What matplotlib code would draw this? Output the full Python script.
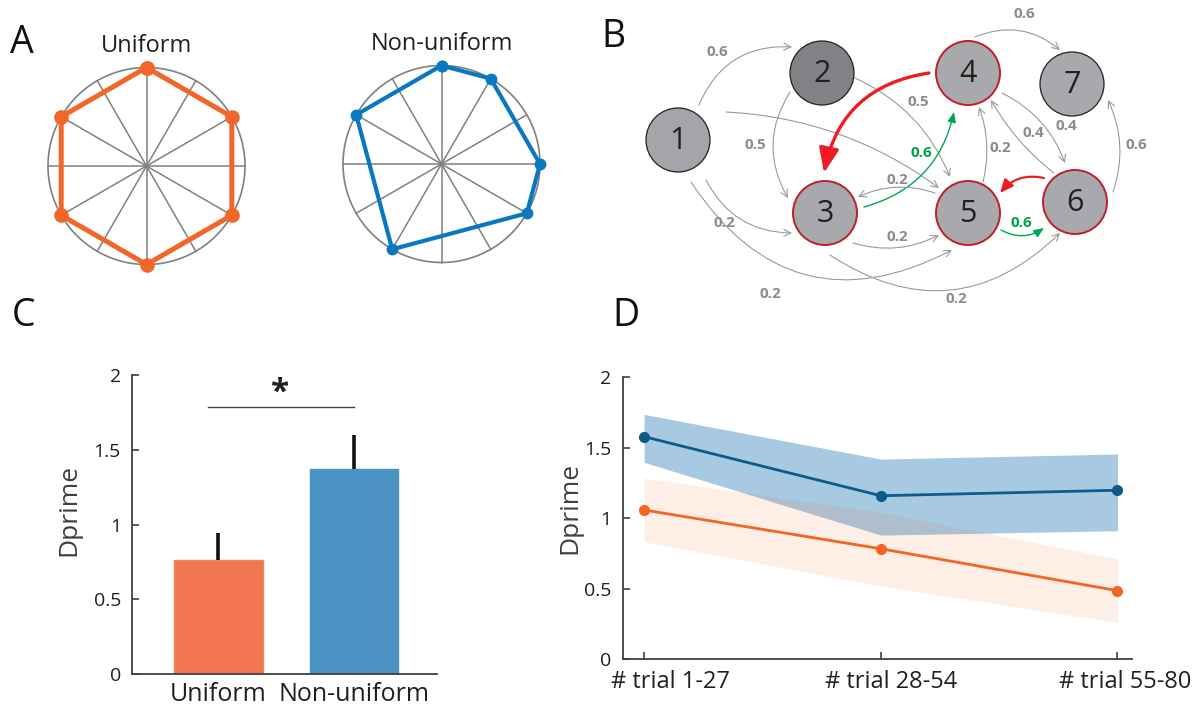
import numpy as np
import matplotlib
matplotlib.use("Agg")
import matplotlib.pyplot as plt
import matplotlib.transforms as mtrans
from matplotlib.patches import Circle, FancyArrowPatch

plt.rcParams['font.family'] = ['Open Sans', 'DejaVu Sans']

W, H = 1196, 708

# ---- panel A data: polygon vertex angles (deg) on unit circle
uniform_angles = [90, 30, -30, -90, -150, 150]
nonuniform_angles = [90, 60, 0, -30, -120, 150]

# ---- panel B data: nodes and transition edges
node_ids = ['1', '2', '3', '4', '5', '6', '7']
node_xy = {'1': (678, 140), '2': (822, 73), '3': (825, 213), '4': (968, 73),
           '5': (968, 213), '6': (1075, 202), '7': (1072, 84)}
node_fill = {'1': '#a3a5a8', '2': '#808285', '3': '#a7a9ac', '4': '#a7a9ac',
             '5': '#a7a9ac', '6': '#a7a9ac', '7': '#a7a9ac'}
node_edge = {'1': '#231f20', '2': '#231f20', '3': '#be1e2d', '4': '#be1e2d',
             '5': '#be1e2d', '6': '#be1e2d', '7': '#231f20'}
# (start xy, end xy, rad, kind, label, label xy)
edges = [
    ((699, 105), (792, 47), -0.35, 'gray', '0.6', (717, 52)),
    ((726, 112), (939, 188), -0.15, 'gray', '', None),
    ((706, 180), (792, 233), 0.3, 'gray', '0.2', (724, 223)),
    ((691, 182), (952, 250), 0.45, 'gray', '0.2', (770, 294)),
    ((790, 92), (788, 198), 0.3, 'gray', '0.5', (755, 145)),
    ((855, 78), (950, 177), -0.2, 'gray', '0.5', (918, 102)),
    ((929, 73), (824, 173), 0.35, 'red', '', None),
    ((864, 207), (954, 112), 0.3, 'green', '0.6', (921, 153)),
    ((935, 193), (858, 197), 0.2, 'gray', '0.2', (897, 180)),
    ((853, 243), (939, 235), 0.2, 'gray', '0.2', (897, 237)),
    ((830, 255), (1060, 233), 0.4, 'gray', '0.2', (956, 299)),
    ((983, 182), (979, 107), 0.15, 'gray', '0.2', (1000, 148)),
    ((1054, 173), (991, 100), -0.1, 'gray', '0.4', (1033, 133)),
    ((1002, 93), (1065, 163), -0.2, 'gray', '0.4', (1066, 126)),
    ((1044, 178), (1000, 193), 0.3, 'red2', '', None),
    ((1001, 230), (1044, 228), 0.3, 'green', '0.6', (1021, 223)),
    ((1113, 192), (1108, 100), 0.2, 'gray', '0.6', (1136, 145)),
    ((975, 37), (1060, 50), -0.3, 'gray', '0.6', (1024, 14)),
]

# ---- panel C data
groups = ['Uniform', 'Non-uniform']
dprime_mean = [0.763, 1.373]
dprime_err = [0.18, 0.228]
bar_colors = ['#f1764f', '#4a92c4']

# ---- panel D data
trial_labels = ['# trial 1-27', '# trial 28-54', '# trial 55-80']
nonuni_mean = [1.579, 1.160, 1.199]
nonuni_hi = [1.737, 1.420, 1.456]
nonuni_lo = [1.397, 0.881, 0.912]
uni_mean = [1.059, 0.784, 0.487]
uni_hi = [1.284, 1.043, 0.712]
uni_lo = [0.834, 0.520, 0.260]

fig = plt.figure(figsize=(W / 100, H / 100), dpi=100)


def ax_px(x0, y0, x1, y1):
    return fig.add_axes([x0 / W, 1 - y1 / H, (x1 - x0) / W, (y1 - y0) / H])


def ftext(x, y, s, **kw):
    return fig.text(x / W, 1 - y / H, s, **kw)


# ---------------- panel A
def radar(cx, cy, angles, color, lw, ms, title):
    r = 98.5
    pad = 112
    ax = ax_px(cx - pad, cy - pad, cx + pad, cy + pad)
    lim = pad / r
    ax.set_xlim(-lim, lim)
    ax.set_ylim(-lim, lim)
    ax.axis('off')
    t = np.linspace(0, 2 * np.pi, 300)
    ax.plot(np.cos(t), np.sin(t), color='#808080', lw=1.2)
    for a in range(0, 180, 30):
        ra = np.deg2rad(a)
        ax.plot([-np.cos(ra), np.cos(ra)], [-np.sin(ra), np.sin(ra)], color='#808080', lw=1.1)
    ang = np.deg2rad(angles + angles[:1])
    ax.plot(np.cos(ang), np.sin(ang), color=color, lw=lw, marker='o', ms=ms,
            solid_joinstyle='round', clip_on=False)
    ftext(cx, cy - 120, title, ha='center', va='center', fontsize=17, color='#231f20')


radar(146.5, 166, uniform_angles, '#f26629', 3.6, 9.5, 'Uniform')
radar(441.5, 164, nonuniform_angles, '#0a78c0', 3.0, 7.5, 'Non-uniform')

# ---------------- panel B
axb = ax_px(600, 0, 1196, 310)
axb.set_xlim(600, 1196)
axb.set_ylim(310, 0)
axb.axis('off')
for n in node_ids:
    lw = 1.4 if node_edge[n] == '#be1e2d' else 0.9
    axb.add_patch(Circle(node_xy[n], 32, facecolor=node_fill[n], edgecolor=node_edge[n], lw=lw, zorder=2))
    axb.text(node_xy[n][0], node_xy[n][1] + 1, n, ha='center', va='center', fontsize=22,
             color='#231f20', zorder=3)

styles = {
    'gray': dict(color='#9a9a9a', lw=0.8, arrowstyle='->,head_length=0.5,head_width=0.25'),
    'green': dict(color='#00a651', lw=1.0, arrowstyle='-|>,head_length=0.6,head_width=0.25'),
    'red': dict(color='#ed1c24', lw=2.4, arrowstyle='-|>,head_length=1.5,head_width=0.6'),
    'red2': dict(color='#ed1c24', lw=1.6, arrowstyle='-|>,head_length=0.8,head_width=0.35'),
}
for p0, p1, rad, kind, lab, lxy in edges:
    st = styles[kind]
    arr = FancyArrowPatch(p0, p1, connectionstyle='arc3,rad=%.2f' % rad, arrowstyle=st['arrowstyle'],
                          mutation_scale=10, color=st['color'], lw=st['lw'], zorder=1,
                          shrinkA=0, shrinkB=0)
    axb.add_patch(arr)
    if lab:
        col = '#00a14b' if kind == 'green' else '#8c8c8c'
        axb.text(lxy[0], lxy[1], lab, ha='center', va='center', fontsize=11,
                 fontweight='bold', color=col)

# ---------------- panel C
axc = ax_px(132, 375.3, 437, 674)
xc = [1, 2]
axc.bar(xc, dprime_mean, width=0.65, color=bar_colors, edgecolor=['#f28860', bar_colors[1]], lw=1)
for x, m, e in zip(xc, dprime_mean, dprime_err):
    axc.plot([x, x], [m, m + e], color='#111111', lw=2.6, solid_capstyle='butt')
axc.plot([0.926, 2.0], [1.786, 1.786], color='#444444', lw=1)
axc.text(1.455, 1.88, '*', ha='center', va='center', fontsize=24, fontweight='bold', color='#231f20')
axc.set_xlim(0.364, 2.61)
axc.set_ylim(0, 2)
axc.set_xticks(xc)
axc.set_xticklabels(groups, fontsize=18)
axc.set_yticks([0, 0.5, 1, 1.5, 2])
axc.set_yticklabels(['0', '0.5', '1', '1.5', '2'], fontsize=14)
axc.set_ylabel('Dprime', fontsize=19, color='#404040')
axc.yaxis.set_label_coords(-0.165, 0.549)

# ---------------- panel D
axd = ax_px(622.8, 377.3, 1132.4, 659.3)
xd = [1, 2, 3]
axd.fill_between(xd, nonuni_lo, nonuni_hi, color='#a7c9e2', lw=0)
axd.fill_between(xd, uni_lo, uni_hi, color='#f26522', alpha=0.11, lw=0)
axd.plot(xd, nonuni_mean, color='#0f5a8c', lw=2, marker='o', ms=7)
axd.plot(xd, uni_mean, color='#f26522', lw=2, marker='o', ms=7)
axd.set_xlim(0.91, 3.063)
axd.set_ylim(0, 2)
axd.set_xticks(xd)
axd.set_xticklabels(trial_labels, fontsize=17)
axd.set_yticks([0, 0.5, 1, 1.5, 2])
axd.set_yticklabels(['0', '0.5', '1', '1.5', '2'], fontsize=14)
axd.set_ylabel('Dprime', fontsize=19, color='#404040')
axd.yaxis.set_label_coords(-0.08, 0.537)

for ax in (axc, axd):
    for s in ('top', 'right'):
        ax.spines[s].set_visible(False)
    for s in ('left', 'bottom'):
        ax.spines[s].set_color('#404040')
        ax.spines[s].set_linewidth(1.3)
    ax.tick_params(direction='in', length=5, width=1.2, colors='#404040', labelcolor='#231f20', pad=8)
axc.tick_params(axis='x', length=0, pad=6)

# shift D tick labels slightly right as in the original layout
for lbl, dx in zip(axd.get_xticklabels(), [26, 10, 8]):
    lbl.set_transform(lbl.get_transform() + mtrans.ScaledTranslation(dx / 100, 0, fig.dpi_scale_trans))

# panel letters
for lab, x, y in [('A', 22, 43), ('B', 613, 37), ('C', 24, 316), ('D', 626, 316)]:
    ftext(x, y, lab, ha='center', va='center', fontsize=27, color='#111111')

fig.savefig('out.png', dpi=100)
